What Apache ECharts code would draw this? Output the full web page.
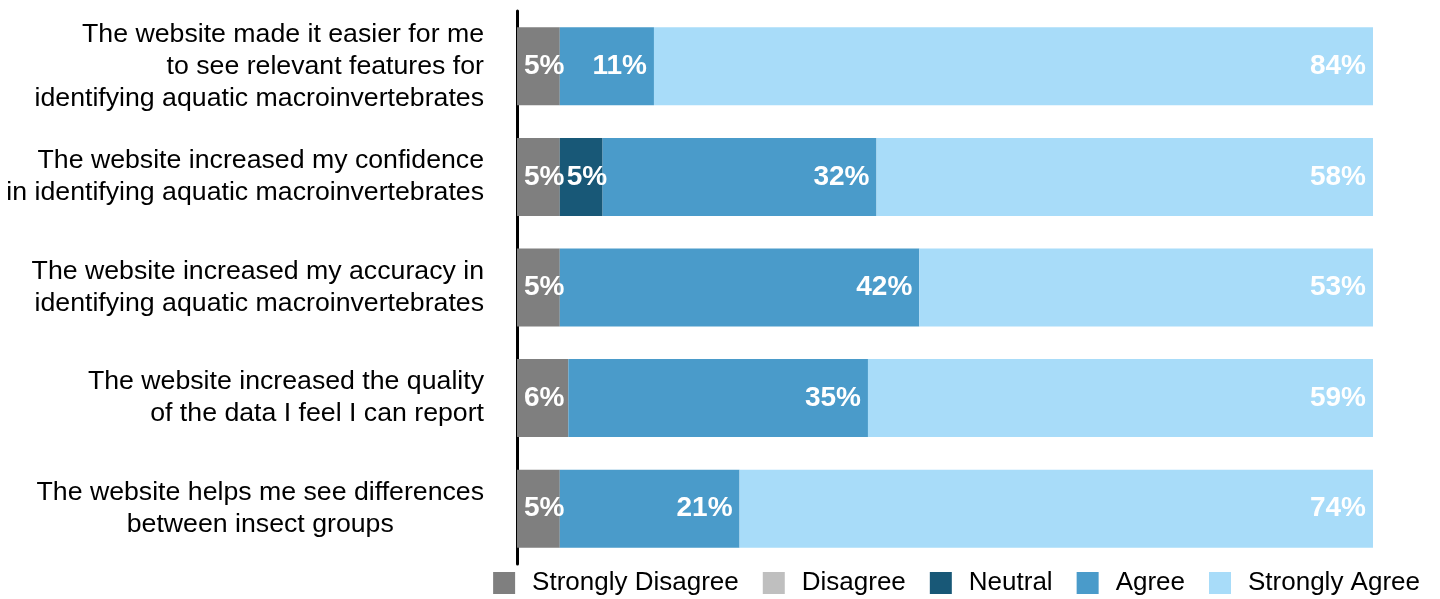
<!DOCTYPE html>
<html>
<head>
<meta charset="utf-8">
<title>Website survey responses</title>
<script src="https://cdn.jsdelivr.net/npm/echarts@6/dist/echarts.min.js"></script>
<style>
  html, body { margin: 0; padding: 0; background: #ffffff; }
  #chart { width: 1440px; height: 599px; }
</style>
</head>
<body>
<div id="chart"></div>
<script>
// Survey statements (top to bottom)
const statements = [
  'The website made it easier for me\nto see relevant features for\nidentifying aquatic macroinvertebrates',
  'The website increased my confidence\nin identifying aquatic macroinvertebrates',
  'The website increased my accuracy in\nidentifying aquatic macroinvertebrates',
  'The website increased the quality\nof the data I feel I can report',
  'The website helps me see differences\nbetween insect groups'
];

// Response levels
const levels = ['Strongly Disagree', 'Disagree', 'Neutral', 'Agree', 'Strongly Agree'];

// Share of responses (%) per statement, one array per level
const stronglyDisagree = [5, 5, 5, 6, 5];
const disagree         = [0, 0, 0, 0, 0];
const neutral          = [0, 5, 0, 0, 0];
const agree            = [11, 32, 42, 35, 21];
const stronglyAgree    = [84, 58, 53, 59, 74];

const seriesValues = [stronglyDisagree, disagree, neutral, agree, stronglyAgree];
const levelColors = ['#7f7f7f', '#bfbfbf', '#185877', '#4a9bca', '#a8dcf9'];

// the last statement is typeset centred, the others flush right
const statementAlign = ['right', 'right', 'right', 'right', 'center'];

const FONT = '"Liberation Sans", Arial, Helvetica, sans-serif';
const CAT_SIZE = 26.7;

const series = levels.map((name, i) => ({
  name: name,
  type: 'bar',
  stack: 'total',
  barWidth: 78,
  itemStyle: { color: levelColors[i] },
  data: seriesValues[i].map(v => ({
    value: v,
    // narrow segments keep their label anchored at the segment start
    label: v <= 6 ? { position: 'insideLeft', distance: 7 } : undefined
  })),
  label: {
    show: true,
    position: 'insideRight',
    distance: 7,
    color: '#ffffff',
    fontFamily: FONT,
    fontWeight: 'bold',
    fontSize: 28,
    formatter: p => (p.value > 0 ? p.value + '%' : '')
  },
  emphasis: { disabled: true }
}));

const chart = echarts.init(document.getElementById('chart'), null, { renderer: 'canvas' });

chart.setOption({
  animation: false,
  backgroundColor: '#ffffff',
  grid: { left: 517, right: 67, top: 11, height: 553, containLabel: false },
  xAxis: {
    type: 'value',
    min: 0,
    max: 100,
    show: false
  },
  yAxis: {
    type: 'category',
    inverse: true,
    data: statements,
    axisLine: { show: true, lineStyle: { color: '#000000', width: 3 } },
    axisTick: { show: false },
    axisLabel: {
      margin: 33,
      color: '#000000',
      fontFamily: FONT,
      fontSize: CAT_SIZE,
      lineHeight: 32,
      formatter: (val, idx) => {
        const key = statementAlign[idx] === 'center' ? 'c' : 'r';
        return val.split('\n').map(line => '{' + key + '|' + line + '}').join('\n');
      },
      rich: {
        r: { align: 'right', fontFamily: FONT, fontSize: CAT_SIZE, lineHeight: 32, color: '#000000' },
        c: { align: 'center', fontFamily: FONT, fontSize: CAT_SIZE, lineHeight: 32, color: '#000000' }
      }
    }
  },
  legend: {
    data: levels,
    right: 15,
    top: 565,
    icon: 'rect',
    itemWidth: 22,
    itemHeight: 22,
    itemGap: 24,
    selectedMode: false,
    textStyle: {
      color: '#000000',
      fontFamily: FONT,
      fontSize: 26,
      padding: [0, 0, 0, 12]
    }
  },
  series: series
});
</script>
</body>
</html>
